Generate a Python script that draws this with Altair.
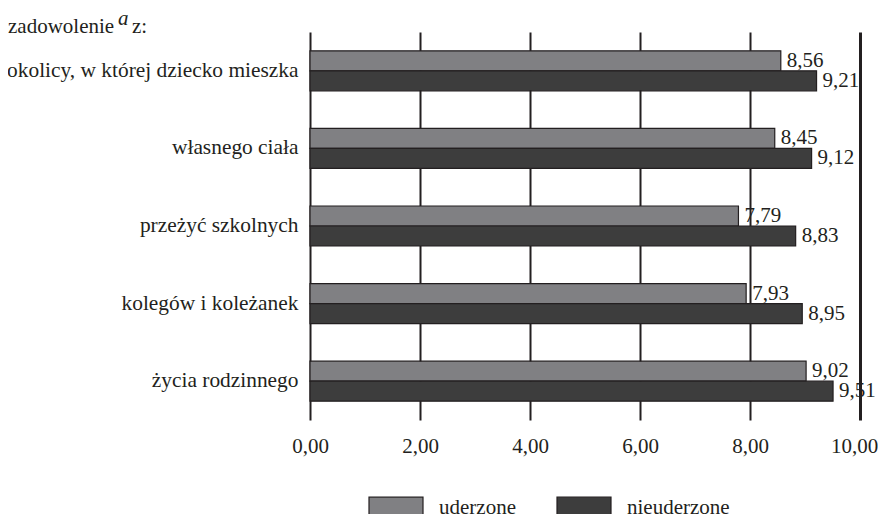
import altair as alt
import pandas as pd

categories = [
    "okolicy, w której dziecko mieszka",
    "własnego ciała",
    "przeżyć szkolnych",
    "kolegów i koleżanek",
    "życia rodzinnego",
]
groups = ["uderzone", "nieuderzone"]
uderzone = [8.56, 8.45, 7.79, 7.93, 9.02]
nieuderzone = [9.21, 9.12, 8.83, 8.95, 9.51]
x_ticks = [0, 2, 4, 6, 8, 10]
title_main = "zadowolenie"
title_sup = "a"
title_tail = "z:"

FONT = "Liberation Serif"
INK = "#231f20"
FS = 21

rows = []
for cat, a, b in zip(categories, uderzone, nieuderzone):
    rows.append({"kategoria": cat, "grupa": groups[0], "wartosc": a})
    rows.append({"kategoria": cat, "grupa": groups[1], "wartosc": b})
df = pd.DataFrame(rows)
df["etykieta"] = df["wartosc"].map(lambda v: f"{v:.2f}".replace(".", ","))

base = alt.Chart(df).encode(
    y=alt.Y(
        "kategoria:N",
        sort=categories,
        scale=alt.Scale(paddingInner=0.485, paddingOuter=0.2425),
        axis=alt.Axis(
            title=None, domain=False, ticks=False, grid=False,
            labelFont=FONT, labelFontSize=21.4, labelColor=INK,
            labelPadding=12, labelLimit=0,
        ),
    ),
    yOffset=alt.YOffset("grupa:N", sort=groups),
)

bars = base.mark_bar(stroke=INK, strokeWidth=1.2, opacity=1).encode(
    x=alt.X(
        "wartosc:Q",
        scale=alt.Scale(domain=[0, 10], nice=False, zero=True),
        axis=alt.Axis(
            title=None, domain=False, ticks=False, grid=True,
            values=x_ticks,
            labelExpr="replace(format(datum.value, '.2f'), '.', ',')",
            gridColor=INK,
            gridWidth=alt.condition("datum.value === 10", alt.value(3), alt.value(2)),
            gridOpacity=1,
            labelOffset=alt.condition("datum.value === 10", alt.value(-6), alt.value(0)),
            labelFont=FONT, labelFontSize=FS, labelColor=INK,
            labelPadding=15, labelFlush=False,
        ),
    ),
    color=alt.Color(
        "grupa:N",
        sort=groups,
        scale=alt.Scale(domain=groups, range=["#808083", "#3d3d3d"]),
        legend=alt.Legend(
            title=None, orient="none", legendX=58, legendY=448,
            direction="horizontal",
            symbolType="M-1,-0.41H1V0.41H-1Z", symbolSize=2916,
            symbolStrokeColor=INK, symbolStrokeWidth=1.2, symbolOpacity=1,
            labelFont=FONT, labelFontSize=FS, labelColor=INK,
            labelOffset=15, columnPadding=38,
        ),
    ),
)

labels = base.mark_text(
    align="left", baseline="middle", dx=6, dy=0,
    font=FONT, fontSize=FS, color=INK,
).encode(x="wartosc:Q", text="etykieta:N")

tdf = pd.DataFrame({"t": [title_main], "s": [title_sup], "z": [title_tail]})
t1 = alt.Chart(tdf).mark_text(
    align="left", baseline="alphabetic", font=FONT, fontSize=FS, color=INK
).encode(text="t:N", x=alt.value(-302), y=alt.value(1))
t2 = alt.Chart(tdf).mark_text(
    align="left", baseline="alphabetic", font=FONT, fontSize=FS,
    fontStyle="italic", color=INK
).encode(text="s:N", x=alt.value(-192), y=alt.value(-7))
t3 = alt.Chart(tdf).mark_text(
    align="left", baseline="alphabetic", font=FONT, fontSize=FS, color=INK
).encode(text="z:N", x=alt.value(-178), y=alt.value(1))

chart = (
    alt.layer(bars, labels, t1, t2, t3)
    .properties(
        width=550, height=388,
        autosize=alt.AutoSizeParams(type="none"),
        padding={"left": 302, "top": 24, "right": 18, "bottom": 94},
        background="white",
    )
    .configure_view(stroke=None)
)

chart.save("out.html", embed_options={"renderer": "svg", "actions": False})
